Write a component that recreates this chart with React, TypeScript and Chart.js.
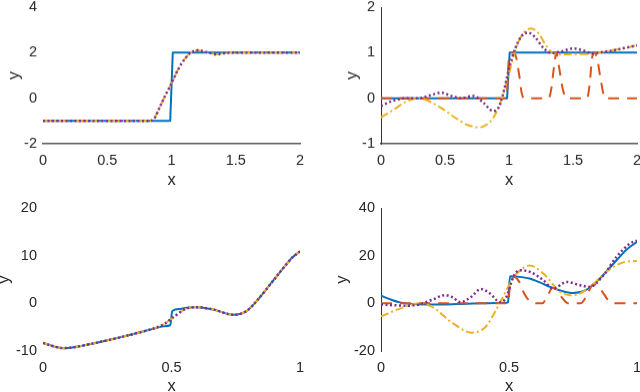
import React, { useEffect, useRef } from 'react';
import { Chart, registerables } from 'chart.js';

Chart.register(...registerables);

// ---------- colours (MATLAB default order) ----------
const BLUE = '#0072BD';
const ORANGE = '#D95319';
const YELLOW = '#EDB120';
const PURPLE = '#7E2F8E';
const TEXT = '#262626';

// ---------- data: top-left ----------
const tlBlue = [[0, -1], [0.99, -1], [1.01, 2], [2, 2]];
const tlYellow = [[0, -1], [0.4, -1], [0.83, -1], [0.87, -0.85], [0.9, -0.5], [0.95, 0.1], [1.0, 0.65], [1.05, 1.25], [1.1, 1.7], [1.15, 2.0], [1.2, 2.1], [1.27, 2.03], [1.35, 1.93], [1.45, 2.0], [1.6, 2.0], [2, 2]];
const tlPurple = [[0, -1], [0.4, -1], [0.83, -1], [0.87, -0.85], [0.9, -0.5], [0.95, 0.1], [1.0, 0.65], [1.05, 1.25], [1.1, 1.7], [1.15, 2.0], [1.2, 2.1], [1.27, 2.03], [1.35, 1.93], [1.45, 2.0], [1.6, 2.0], [2, 2]];

// ---------- data: top-right ----------
const trBlue = [[0, 0], [0.985, 0], [1.005, 1], [2, 1]];
const trOrange = [[0, 0], [0.98, 0], [1.0, 0.9], [1.02, 1.0], [1.05, 0.95], [1.08, 0.5], [1.1, 0.1], [1.12, 0], [1.31, 0], [1.33, 0.2], [1.35, 0.65], [1.37, 1.0], [1.39, 0.7], [1.42, 0.2], [1.45, 0], [1.61, 0], [1.63, 0.3], [1.65, 0.9], [1.67, 1.0], [1.69, 0.85], [1.72, 0.35], [1.75, 0], [2, 0]];
const trYellow = [[0, -0.42], [0.1, -0.25], [0.2, -0.07], [0.3, 0.0], [0.4, -0.1], [0.5, -0.27], [0.57, -0.41], [0.67, -0.58], [0.77, -0.64], [0.83, -0.57], [0.875, -0.44], [0.94, -0.04], [1.0, 0.55], [1.05, 1.05], [1.1, 1.38], [1.17, 1.53], [1.23, 1.43], [1.28, 1.2], [1.33, 1.02], [1.4, 0.96], [1.5, 0.97], [1.6, 0.97], [1.7, 1.0], [1.8, 1.05], [1.9, 1.1], [2.0, 1.16]];
const trPurple = [[0, -0.17], [0.1, -0.05], [0.2, 0.0], [0.3, 0.0], [0.38, 0.06], [0.47, 0.12], [0.55, 0.05], [0.62, 0.0], [0.72, 0.05], [0.8, -0.1], [0.875, -0.28], [0.92, -0.2], [0.95, 0.05], [1.0, 0.65], [1.05, 1.1], [1.1, 1.37], [1.15, 1.44], [1.2, 1.35], [1.27, 1.1], [1.33, 0.99], [1.4, 1.02], [1.5, 1.09], [1.58, 1.05], [1.65, 0.98], [1.7, 1.0], [1.8, 1.04], [1.9, 1.1], [2.0, 1.16]];

// ---------- data: bottom-left ----------
const blBlue = [[0, -8.3], [0.04, -9.0], [0.079, -9.4], [0.12, -9.2], [0.17, -8.7], [0.23, -8.0], [0.287, -7.3], [0.34, -6.6], [0.39, -5.9], [0.44, -5.2], [0.47, -4.8], [0.495, -4.6], [0.503, -1.6], [0.533, -1.2], [0.56, -0.9], [0.598, -0.8], [0.663, -1.3], [0.74, -2.4], [0.79, -1.7], [0.83, 0.4], [0.883, 3.9], [0.935, 7.4], [0.97, 9.6], [1.0, 10.9]];
const blYellow = [[0, -8.3], [0.04, -9.0], [0.079, -9.4], [0.12, -9.2], [0.17, -8.7], [0.23, -8.0], [0.287, -7.3], [0.34, -6.6], [0.39, -5.9], [0.44, -5.1], [0.47, -4.4], [0.5, -3.2], [0.52, -2.4], [0.553, -1.2], [0.598, -0.8], [0.663, -1.3], [0.74, -2.4], [0.79, -1.7], [0.83, 0.4], [0.883, 3.9], [0.935, 7.4], [0.97, 9.6], [1.0, 10.9]];
const blPurple = [[0, -8.3], [0.04, -9.0], [0.079, -9.4], [0.12, -9.2], [0.17, -8.7], [0.23, -8.0], [0.287, -7.3], [0.34, -6.6], [0.39, -5.9], [0.44, -5.1], [0.47, -4.4], [0.5, -3.2], [0.52, -2.4], [0.553, -1.2], [0.598, -0.8], [0.663, -1.3], [0.74, -2.4], [0.79, -1.7], [0.83, 0.4], [0.883, 3.9], [0.935, 7.4], [0.97, 9.6], [1.0, 10.9]];

// ---------- data: bottom-right ----------
const brBlue = [[0, 3.2], [0.04, 1.5], [0.074, 0.4], [0.12, -0.3], [0.2, -0.5], [0.3, -0.3], [0.4, 0], [0.49, 0.2], [0.496, 0.5], [0.504, 11.4], [0.55, 11.0], [0.58, 10.4], [0.62, 8.8], [0.66, 6.9], [0.7, 5.4], [0.75, 4.3], [0.8, 5.5], [0.855, 10.4], [0.92, 18.1], [0.96, 22.6], [1.0, 25.8]];
const brOrange = [[0, 0], [0.495, 0], [0.505, 8], [0.52, 11], [0.54, 9], [0.56, 4], [0.58, 1], [0.6, 0], [0.63, 0], [0.65, 3], [0.67, 6.5], [0.69, 5], [0.71, 2], [0.73, 0], [0.78, 0], [0.8, 2.5], [0.83, 8], [0.85, 7], [0.87, 4], [0.89, 1], [0.91, 0], [1.0, 0]];
const brYellow = [[0, -5.5], [0.074, -2.2], [0.152, 0.0], [0.2, -1.5], [0.28, -8.3], [0.354, -12.3], [0.41, -9.7], [0.45, -2.7], [0.484, 4.3], [0.517, 10.7], [0.556, 14.9], [0.58, 15.9], [0.634, 12.5], [0.7, 4.8], [0.75, 3.3], [0.816, 6.9], [0.88, 13.2], [0.946, 17.2], [1.0, 17.8]];
const brPurple = [[0, -0.5], [0.05, -0.8], [0.1, -1.0], [0.15, -0.5], [0.2, 1.5], [0.25, 3.4], [0.28, 2.5], [0.31, 0.5], [0.35, 2.5], [0.39, 6.0], [0.426, 4.1], [0.465, 0.5], [0.49, 2.7], [0.517, 11.1], [0.543, 13.9], [0.582, 13.2], [0.634, 9.7], [0.673, 6.2], [0.725, 9.0], [0.777, 7.6], [0.816, 6.9], [0.869, 11.8], [0.92, 19.5], [0.973, 25.1], [1.0, 26.3]];

// ---------- axis ranges [min, max, step] ----------
const topXRange = [0, 2, 0.5];
const botXRange = [0, 1, 0.5];
const tlYRange = [-2, 4, 2];
const trYRange = [-1, 2, 1];
const blYRange = [-10, 20, 10];
const brYRange = [-20, 40, 20];

// ---------- layout ----------
const PAD_L = 60, PAD_T = 20, PAD_R = 20, PAD_B = 60;
const FONT = "'Liberation Sans', Arial, Helvetica, sans-serif";
const TICK_SIZE = 14.5;
const TITLE_SIZE = 16.5;

type Style = { color: string; dash: number[]; width: number; order: number; smooth: boolean };
const sBlueStep: Style = { color: BLUE, dash: [], width: 2, order: 4, smooth: false };
const sBlueSmooth: Style = { color: BLUE, dash: [], width: 2, order: 4, smooth: true };
const sOrange: Style = { color: ORANGE, dash: [11, 8], width: 2, order: 3, smooth: true };
const sYellow: Style = { color: YELLOW, dash: [8, 3, 2, 3], width: 2, order: 2, smooth: true };
const sPurple: Style = { color: PURPLE, dash: [2, 2.5], width: 2.5, order: 1, smooth: true };

type Panel = {
  L: number; T: number; R: number; B: number;
  xr: number[]; yr: number[];
  series: [number[][], Style][];
  xBorder: boolean; yBorder: boolean;
  yGap: number; xGap: number;
};

const panels: Panel[] = [
  { L: 43, T: 7, R: 300, B: 143.5, xr: topXRange, yr: tlYRange, series: [[tlBlue, sBlueStep], [tlYellow, sYellow], [tlPurple, sPurple]], xBorder: true, yBorder: false, yGap: 29, xGap: 36.5 },
  { L: 381, T: 7, R: 637, B: 143.5, xr: topXRange, yr: trYRange, series: [[trBlue, sBlueStep], [trOrange, sOrange], [trYellow, sYellow], [trPurple, sPurple]], xBorder: true, yBorder: true, yGap: 29, xGap: 36.5 },
  { L: 43, T: 208, R: 300, B: 351, xr: botXRange, yr: blYRange, series: [[blBlue, sBlueSmooth], [blYellow, sYellow], [blPurple, sPurple]], xBorder: false, yBorder: false, yGap: 39, xGap: 35 },
  { L: 381, T: 208, R: 637, B: 351, xr: botXRange, yr: brYRange, series: [[brBlue, sBlueSmooth], [brOrange, sOrange], [brYellow, sYellow], [brPurple, sPurple]], xBorder: false, yBorder: true, yGap: 39, xGap: 35 },
];

const fmt = (v: any) => String(Number(v));

function SubPlot({ p }: { p: Panel }) {
  const ref = useRef<HTMLCanvasElement | null>(null);
  const w = p.R - p.L + PAD_L + PAD_R;
  const h = p.B - p.T + PAD_T + PAD_B;
  useEffect(() => {
    if (!ref.current) return;
    const half = (TITLE_SIZE * 1.2) / 2;
    const chart = new Chart(ref.current, {
      type: 'line',
      data: {
        datasets: p.series.map(([d, s]) => ({
          data: d.map(([x, y]) => ({ x, y })),
          borderColor: s.color,
          backgroundColor: s.color,
          borderWidth: s.width,
          borderDash: s.dash,
          borderCapStyle: 'butt',
          borderJoinStyle: 'round',
          pointRadius: 0,
          fill: false,
          order: s.order,
          tension: s.smooth ? 0.4 : 0,
          cubicInterpolationMode: s.smooth ? 'monotone' : 'default',
        })) as any,
      },
      options: {
        animation: false,
        responsive: false,
        maintainAspectRatio: false,
        events: [],
        layout: { padding: { left: 0, top: PAD_T, right: PAD_R, bottom: 0 } },
        plugins: { legend: { display: false }, tooltip: { enabled: false } },
        scales: {
          x: {
            type: 'linear',
            min: p.xr[0], max: p.xr[1],
            grid: { display: false, drawTicks: false },
            border: { display: p.xBorder, color: '#555555', width: 1.5 },
            ticks: { stepSize: p.xr[2], color: TEXT, padding: 8, maxRotation: 0, font: { family: FONT, size: TICK_SIZE }, callback: fmt },
            title: { display: true, text: 'x', color: TEXT, font: { family: FONT, size: TITLE_SIZE }, padding: { top: 0, bottom: PAD_B - p.xGap - half } },
            afterFit: (s: any) => { s.height = PAD_B; s.paddingLeft = 0; s.paddingRight = 0; },
          },
          y: {
            type: 'linear',
            min: p.yr[0], max: p.yr[1],
            grid: { display: false, drawTicks: false },
            border: { display: p.yBorder, color: '#333333', width: 1 },
            ticks: { stepSize: p.yr[2], color: TEXT, padding: 6, font: { family: FONT, size: TICK_SIZE }, callback: fmt },
            title: { display: true, text: 'y', color: TEXT, font: { family: FONT, size: TITLE_SIZE }, padding: { top: PAD_L - p.yGap - half, bottom: 0 } },
            afterFit: (s: any) => { s.width = PAD_L; s.paddingTop = 0; s.paddingBottom = 0; },
          },
        },
      } as any,
    });
    return () => chart.destroy();
  }, [p]);
  return (
    <canvas
      ref={ref}
      width={w}
      height={h}
      style={{ position: 'absolute', left: p.L - PAD_L, top: p.T - PAD_T, width: w, height: h }}
    />
  );
}

export default function App() {
  return (
    <div style={{ position: 'fixed', left: 0, top: 0, width: 640, height: 392, overflow: 'hidden', background: '#ffffff' }}>
      {panels.map((p, i) => <SubPlot key={i} p={p} />)}
    </div>
  );
}
